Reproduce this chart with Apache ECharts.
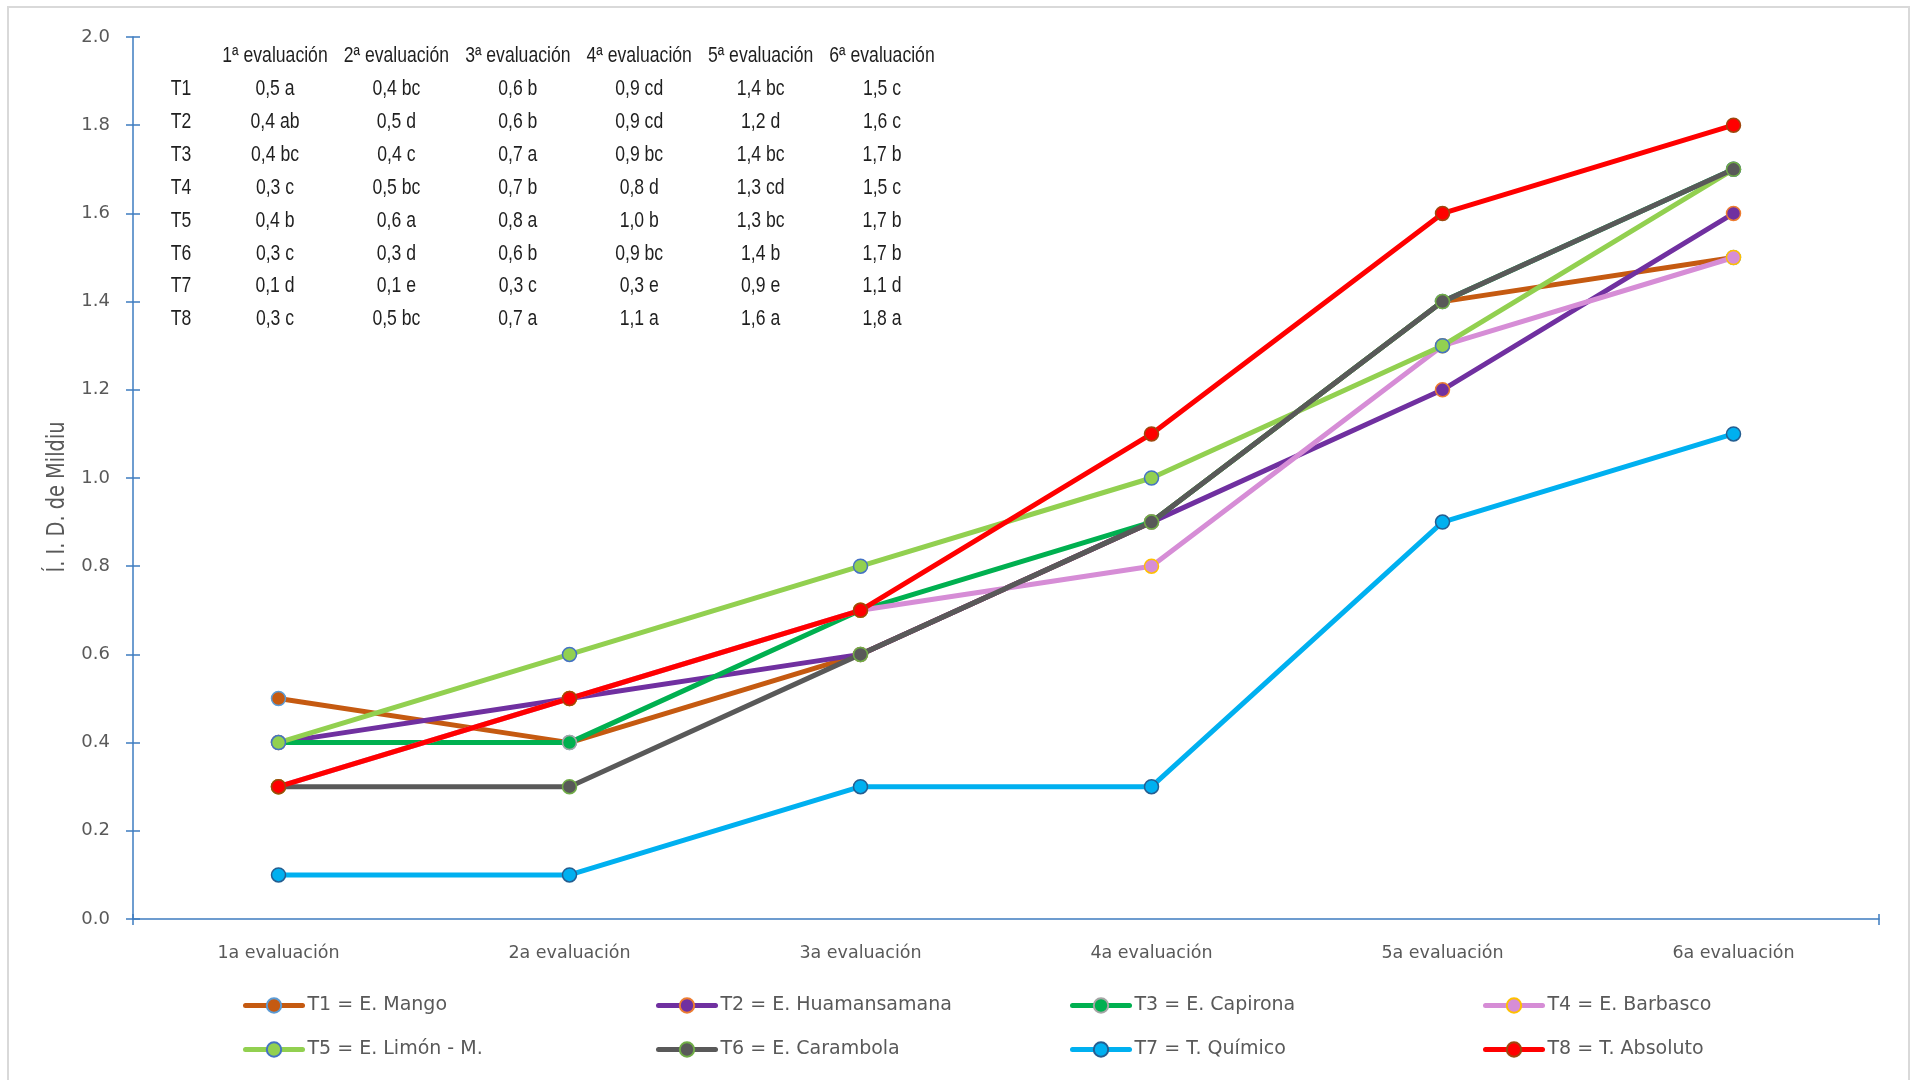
<!DOCTYPE html>
<html>
<head>
<meta charset="utf-8">
<title>Índice de intensidad de daño de Mildiu</title>
<script src="https://cdn.jsdelivr.net/npm/echarts@6/dist/echarts.min.js"></script>
<style>
  html, body { margin: 0; padding: 0; background: #ffffff; }
  #chart { width: 1913px; height: 1080px; }
</style>
</head>
<body>
<div id="chart"></div>
<script>
// Evaluation rounds on the x axis
const categories = ['1a evaluación', '2a evaluación', '3a evaluación', '4a evaluación', '5a evaluación', '6a evaluación'];
// Column headers of the summary table
const tableHeaders = ['1ª evaluación', '2ª evaluación', '3ª evaluación', '4ª evaluación', '5ª evaluación', '6ª evaluación'];
const treatmentCodes = ['T1', 'T2', 'T3', 'T4', 'T5', 'T6', 'T7', 'T8'];
const seriesNames = [
  'T1 = E. Mango', 'T2 = E. Huamansamana', 'T3 = E. Capirona', 'T4 = E. Barbasco',
  'T5 = E. Limón - M.', 'T6 = E. Carambola', 'T7 = T. Químico', 'T8 = T. Absoluto'
];
const yAxisTitle = 'Í. I. D. de Mildiu';

// Mildew damage index per treatment
const t1 = [0.5, 0.4, 0.6, 0.9, 1.4, 1.5];
const t2 = [0.4, 0.5, 0.6, 0.9, 1.2, 1.6];
const t3 = [0.4, 0.4, 0.7, 0.9, 1.4, 1.7];
const t4 = [0.3, 0.5, 0.7, 0.8, 1.3, 1.5];
const t5 = [0.4, 0.6, 0.8, 1.0, 1.3, 1.7];
const t6 = [0.3, 0.3, 0.6, 0.9, 1.4, 1.7];
const t7 = [0.1, 0.1, 0.3, 0.3, 0.9, 1.1];
const t8 = [0.3, 0.5, 0.7, 1.1, 1.6, 1.8];

// Significance letters per treatment and evaluation
const t1Letters = ['a', 'bc', 'b', 'cd', 'bc', 'c'];
const t2Letters = ['ab', 'd', 'b', 'cd', 'd', 'c'];
const t3Letters = ['bc', 'c', 'a', 'bc', 'bc', 'b'];
const t4Letters = ['c', 'bc', 'b', 'd', 'cd', 'c'];
const t5Letters = ['b', 'a', 'a', 'b', 'bc', 'b'];
const t6Letters = ['c', 'd', 'b', 'bc', 'b', 'b'];
const t7Letters = ['d', 'e', 'c', 'e', 'e', 'd'];
const t8Letters = ['c', 'bc', 'a', 'a', 'a', 'a'];

const allValues = [t1, t2, t3, t4, t5, t6, t7, t8];
const allLetters = [t1Letters, t2Letters, t3Letters, t4Letters, t5Letters, t6Letters, t7Letters, t8Letters];

// Styling
const lineColors   = ['#C55A11', '#7030A0', '#00B050', '#D68DD6', '#92D050', '#595959', '#00B0F0', '#FF0000'];
const markerBorder = ['#5B9BD5', '#ED7D31', '#A5A5A5', '#FFC000', '#4472C4', '#70AD47', '#255E91', '#9E480E'];
const axisColor = '#3E7CC0';
const textColor = '#595959';
const uiFont = '"DejaVu Sans", Verdana, sans-serif';

const series = allValues.map((vals, i) => ({
  name: seriesNames[i],
  type: 'line',
  data: vals,
  xAxisIndex: 0,
  yAxisIndex: 0,
  symbol: 'circle',
  symbolSize: 14,
  lineStyle: { color: lineColors[i], width: 5, cap: 'round', join: 'round' },
  itemStyle: { color: lineColors[i], borderColor: markerBorder[i], borderWidth: 1.5 },
  emphasis: { disabled: true },
  z: 2 + i
}));

// Legend: four fixed columns, two rows
const legendCols = [243, 656, 1070, 1483];
const legendRows = [1003, 1047];
const legends = seriesNames.map((name, i) => ({
  data: [name],
  left: legendCols[i % 4],
  top: legendRows[Math.floor(i / 4)] - 7,
  padding: 0,
  itemWidth: 57,
  itemHeight: 18,
  itemGap: 0,
  selectedMode: false,
  lineStyle: { width: 5, cap: 'round' },
  textStyle: { fontFamily: uiFont, fontSize: 19, color: textColor, padding: [0, 0, 0, 0] }
}));

// Summary table of means with significance letters
const tableFont = '22px "Liberation Sans", Arial, sans-serif';
const tableColor = '#1f1f1f';
const tableX0 = 275, tableDX = 121.4, codeX = 181;
const headerY = 56, rowY0 = 89, rowDY = 32.9;
const tableScaleX = 0.8;
const tableTexts = [];
tableHeaders.forEach((h, j) => {
  tableTexts.push({
    type: 'text', x: tableX0 + j * tableDX, y: headerY, scaleX: tableScaleX,
    style: { text: h, font: tableFont, fill: tableColor, align: 'center', verticalAlign: 'middle' }
  });
});
treatmentCodes.forEach((code, r) => {
  const y = rowY0 + r * rowDY;
  tableTexts.push({
    type: 'text', x: codeX, y: y, scaleX: tableScaleX,
    style: { text: code, font: tableFont, fill: tableColor, align: 'center', verticalAlign: 'middle' }
  });
  allValues[r].forEach((v, j) => {
    tableTexts.push({
      type: 'text', x: tableX0 + j * tableDX, y: y, scaleX: tableScaleX,
      style: {
        text: v.toFixed(1).replace('.', ',') + ' ' + allLetters[r][j],
        font: tableFont, fill: tableColor, align: 'center', verticalAlign: 'middle'
      }
    });
  });
});

// Vertical axis title, set a little condensed
const axisTitle = {
  type: 'text', x: 57, y: 497, rotation: Math.PI / 2, scaleX: 0.76, silent: true,
  style: {
    text: yAxisTitle, font: '25.5px "DejaVu Sans", Verdana, sans-serif',
    fill: textColor, align: 'center', verticalAlign: 'middle'
  }
};

// Light frame round the chart area
const frame = {
  type: 'rect', shape: { x: 8, y: 7, width: 1901, height: 1090 }, silent: true,
  style: { fill: 'none', stroke: '#D9D9D9', lineWidth: 2 }, z: -10
};

const hiddenAxisParts = {
  axisLine: { show: false }, axisLabel: { show: false }, splitLine: { show: false }
};

const option = {
  backgroundColor: '#ffffff',
  animation: false,
  grid: { left: 133, right: 34, top: 37, bottom: 161, containLabel: false, outerBoundsMode: 'none' },
  legend: legends,
  xAxis: [
    {
      type: 'category', data: categories, boundaryGap: true, position: 'bottom',
      axisLine: { lineStyle: { color: axisColor, width: 1.5 } },
      axisTick: { alignWithLabel: true, length: 6, lineStyle: { color: axisColor, width: 1.5 } },
      axisLabel: { color: textColor, fontFamily: uiFont, fontSize: 17.5, margin: 25 },
      splitLine: { show: false }
    },
    {
      type: 'category', data: categories, boundaryGap: true, position: 'bottom',
      axisTick: { alignWithLabel: true, inside: true, length: 5, lineStyle: { color: axisColor, width: 1.5 } },
      ...hiddenAxisParts
    },
    {
      type: 'value', min: 0, max: 1, interval: 1, position: 'bottom',
      axisTick: { show: true, length: 6, lineStyle: { color: axisColor, width: 1.5 } },
      ...hiddenAxisParts
    },
    {
      type: 'value', min: 0, max: 1, interval: 1, position: 'bottom',
      axisTick: { show: true, inside: true, length: 5, lineStyle: { color: axisColor, width: 1.5 } },
      ...hiddenAxisParts
    }
  ],
  yAxis: [
    {
      type: 'value', min: 0, max: 2, interval: 0.2, position: 'left',
      axisLine: { show: true, lineStyle: { color: axisColor, width: 1.5 } },
      axisTick: { show: true, length: 7, lineStyle: { color: axisColor, width: 1.5 } },
      axisLabel: {
        color: textColor, fontFamily: uiFont, fontSize: 18, margin: 23,
        formatter: v => v.toFixed(1)
      },
      splitLine: { show: false }
    },
    {
      type: 'value', min: 0, max: 2, interval: 0.2, position: 'left',
      axisTick: { show: true, inside: true, length: 7, lineStyle: { color: axisColor, width: 1.5 } },
      ...hiddenAxisParts
    }
  ],
  graphic: [frame, axisTitle].concat(tableTexts),
  series: series
};

const chart = echarts.init(document.getElementById('chart'), null, { renderer: 'canvas' });
chart.setOption(option);
</script>
</body>
</html>
